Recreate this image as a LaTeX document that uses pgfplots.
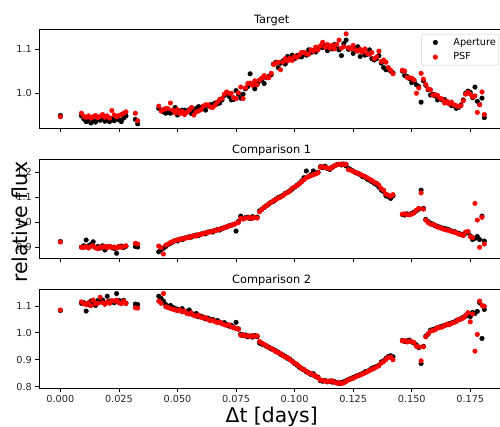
\documentclass[border=0pt]{standalone}
\usepackage{fontspec}
\setmainfont{DejaVu Sans}
\usepackage{pgfplots}
\usepackage{pgfplotstable}
\pgfplotsset{compat=1.18}

\pgfplotstableread{
t ta tp c1a c1p c2a c2p
0.000 0.950 0.947 0.922 0.920 1.083 1.085
0.009 0.949 0.955 0.900 0.899 1.110 1.115
0.010 0.942 0.948 0.905 0.898 1.112 1.108
0.011 0.936 0.946 0.928 0.902 1.081 1.105
0.012 0.940 0.949 0.905 0.896 1.105 1.112
0.013 0.933 0.944 0.910 0.902 1.118 1.101
0.014 0.938 0.947 0.921 0.905 1.112 1.122
0.015 0.935 0.950 0.898 0.897 1.102 1.108
0.016 0.942 0.945 0.902 0.893 1.120 1.110
0.017 0.939 0.948 0.896 0.901 1.115 1.132
0.018 0.944 0.952 0.905 0.899 1.122 1.112
0.019 0.937 0.946 0.888 0.903 1.110 1.106
0.020 0.940 0.949 0.900 0.897 1.136 1.115
0.021 0.936 0.944 0.903 0.902 1.118 1.110
0.022 0.943 0.961 0.897 0.898 1.115 1.120
0.023 0.938 0.951 0.894 0.900 1.112 1.118
0.024 0.945 0.947 0.875 0.896 1.146 1.122
0.025 0.940 0.950 0.900 0.903 1.120 1.112
0.026 0.936 0.952 0.904 0.899 1.116 1.108
0.027 0.944 0.955 0.898 0.902 1.121 1.118
0.028 0.949 0.958 0.903 0.905 1.110 1.109
0.032 0.941 0.955 0.902 0.915 1.107 1.093
0.033 0.931 0.938 0.900 0.912 1.105 1.092
0.042 0.966 0.971 0.881 0.904 1.136 1.118
0.043 0.962 0.960 0.890 0.897 1.128 1.110
0.044 0.958 0.963 0.895 0.872 1.118 1.146
0.045 0.955 0.966 0.902 0.908 1.105 1.097
0.046 0.957 0.965 0.910 0.912 1.098 1.094
0.047 0.955 0.978 0.915 0.918 1.102 1.090
0.048 0.960 0.962 0.920 0.922 1.095 1.088
0.049 0.968 0.956 0.926 0.925 1.090 1.085
0.050 0.951 0.963 0.924 0.929 1.088 1.082
0.051 0.958 0.954 0.932 0.930 1.085 1.086
0.052 0.962 0.959 0.930 0.934 1.090 1.078
0.053 0.962 0.952 0.936 0.933 1.080 1.081
0.054 0.960 0.957 0.938 0.939 1.078 1.072
0.055 0.963 0.962 0.941 0.937 1.085 1.070
0.056 0.954 0.968 0.940 0.943 1.070 1.074
0.057 0.961 0.951 0.945 0.946 1.068 1.065
0.058 0.966 0.958 0.948 0.944 1.072 1.062
0.059 0.970 0.960 0.946 0.950 1.060 1.066
0.060 0.968 0.963 0.952 0.951 1.062 1.058
0.061 0.970 0.971 0.955 0.953 1.058 1.055
0.062 0.962 0.974 0.953 0.957 1.052 1.056
0.063 0.972 0.974 0.960 0.958 1.055 1.050
0.064 0.974 0.969 0.962 0.961 1.048 1.045
0.065 0.975 0.968 0.960 0.964 1.050 1.047
0.066 0.978 0.973 0.967 0.965 1.044 1.042
0.067 0.976 0.980 0.970 0.968 1.046 1.038
0.068 0.978 0.986 0.968 0.972 1.040 1.040
0.069 0.985 0.988 0.975 0.973 1.036 1.034
0.070 0.995 0.998 0.978 0.977 1.038 1.030
0.071 1.002 1.003 0.980 0.982 1.030 1.028
0.072 0.993 1.000 0.985 0.984 1.025 1.030
0.073 0.985 1.000 0.988 0.987 1.028 1.022
0.074 0.986 0.990 0.990 0.991 1.020 1.019
0.075 1.006 0.988 0.964 0.995 1.039 1.016
0.076 0.998 1.001 1.002 0.998 1.015 1.013
0.077 0.989 1.014 1.024 1.015 0.995 0.991
0.078 0.998 0.988 1.015 1.012 0.990 0.993
0.079 1.010 1.012 1.018 1.016 0.992 0.988
0.080 1.015 1.022 1.020 1.017 0.985 0.990
0.081 1.044 1.023 1.014 1.018 0.988 0.986
0.082 1.020 1.018 1.022 1.015 0.984 0.990
0.083 1.010 1.028 1.018 1.019 0.990 0.987
0.084 1.022 1.019 1.020 1.016 0.986 0.989
0.085 1.028 1.030 1.045 1.041 0.962 0.968
0.086 1.030 1.034 1.052 1.050 0.958 0.962
0.087 1.022 1.040 1.058 1.060 0.955 0.957
0.088 1.035 1.036 1.066 1.065 0.950 0.952
0.089 1.038 1.035 1.072 1.074 0.947 0.945
0.090 1.042 1.045 1.080 1.079 0.940 0.943
0.091 1.066 1.065 1.083 1.086 0.938 0.936
0.092 1.070 1.068 1.092 1.090 0.933 0.930
0.093 1.058 1.070 1.098 1.096 0.928 0.926
0.094 1.068 1.053 1.102 1.100 0.920 0.923
0.095 1.073 1.070 1.108 1.106 0.918 0.915
0.096 1.066 1.078 1.115 1.113 0.913 0.910
0.097 1.083 1.073 1.120 1.118 0.905 0.908
0.098 1.076 1.079 1.126 1.124 0.902 0.900
0.099 1.086 1.074 1.132 1.136 0.895 0.893
0.100 1.078 1.083 1.140 1.141 0.886 0.888
0.101 1.085 1.081 1.148 1.146 0.880 0.883
0.102 1.083 1.087 1.155 1.153 0.872 0.876
0.103 1.082 1.092 1.165 1.162 0.868 0.866
0.104 1.090 1.092 1.178 1.170 0.862 0.864
0.105 1.086 1.089 1.205 1.178 0.855 0.858
0.106 1.098 1.088 1.183 1.182 0.852 0.850
0.107 1.092 1.098 1.190 1.186 0.845 0.848
0.108 1.097 1.095 1.205 1.190 0.848 0.842
0.109 1.093 1.104 1.195 1.193 0.838 0.840
0.110 1.102 1.098 1.200 1.198 0.835 0.833
0.111 1.105 1.107 1.222 1.220 0.822 0.825
0.112 1.103 1.115 1.218 1.222 0.820 0.823
0.113 1.108 1.104 1.224 1.219 0.823 0.821
0.114 1.096 1.110 1.215 1.217 0.818 0.820
0.115 1.104 1.102 1.211 1.214 0.821 0.819
0.116 1.100 1.108 1.220 1.218 0.817 0.822
0.117 1.110 1.100 1.225 1.226 0.819 0.816
0.118 1.102 1.110 1.230 1.229 0.815 0.813
0.119 1.098 1.120 1.232 1.231 0.812 0.815
0.120 1.085 1.102 1.229 1.233 0.816 0.811
0.121 1.112 1.105 1.233 1.230 0.818 0.814
0.122 1.120 1.134 1.225 1.232 0.822 0.819
0.123 1.099 1.103 1.215 1.210 0.827 0.825
0.124 1.102 1.100 1.210 1.208 0.830 0.828
0.125 1.090 1.108 1.205 1.203 0.834 0.831
0.126 1.100 1.098 1.198 1.200 0.838 0.836
0.127 1.105 1.095 1.195 1.196 0.842 0.840
0.128 1.083 1.099 1.190 1.192 0.845 0.843
0.129 1.095 1.093 1.182 1.187 0.849 0.847
0.130 1.086 1.100 1.180 1.183 0.855 0.851
0.131 1.088 1.090 1.172 1.178 0.857 0.855
0.132 1.098 1.088 1.168 1.172 0.862 0.860
0.133 1.078 1.092 1.162 1.167 0.868 0.864
0.134 1.075 1.078 1.155 1.160 0.872 0.868
0.135 1.078 1.082 1.150 1.156 0.875 0.873
0.136 1.085 1.095 1.140 1.148 0.880 0.878
0.137 1.068 1.072 1.128 1.134 0.892 0.888
0.138 1.058 1.075 1.122 1.128 0.896 0.893
0.139 1.053 1.070 1.105 1.112 0.905 0.901
0.140 1.056 1.058 1.102 1.108 0.912 0.908
0.141 1.050 1.052 1.095 1.104 0.915 0.910
0.142 1.046 1.044 1.105 1.110 0.911 0.900
0.146 1.050 1.052 1.030 1.032 0.972 0.970
0.147 1.040 1.050 1.028 1.033 0.968 0.971
0.148 1.038 1.036 1.033 1.030 0.970 0.966
0.149 1.033 1.035 1.031 1.029 0.973 0.969
0.150 1.024 1.034 1.035 1.032 0.966 0.968
0.151 1.027 1.030 1.040 1.037 0.962 0.964
0.152 1.019 1.000 1.045 1.048 0.955 0.950
0.153 1.015 1.012 1.052 1.055 0.945 0.948
0.154 0.980 1.045 1.128 1.117 0.886 0.896
0.155 1.028 1.032 1.055 1.052 0.950 0.948
0.156 1.018 1.020 1.011 1.008 0.988 0.985
0.157 1.008 1.010 1.002 0.998 0.995 0.997
0.158 0.996 1.008 0.996 0.992 1.010 1.006
0.159 0.998 0.996 0.992 0.990 1.012 1.008
0.160 0.994 0.997 0.985 0.988 1.015 1.012
0.161 0.985 0.995 0.983 0.980 1.018 1.020
0.162 0.988 0.989 0.980 0.978 1.022 1.019
0.163 0.985 0.987 0.976 0.974 1.025 1.022
0.164 0.986 0.978 0.975 0.970 1.028 1.026
0.165 0.980 0.982 0.972 0.968 1.030 1.032
0.166 0.978 0.976 0.969 0.966 1.034 1.030
0.167 0.972 0.980 0.964 0.962 1.037 1.035
0.168 0.972 0.974 0.963 0.960 1.040 1.038
0.169 0.966 0.972 0.958 0.957 1.045 1.042
0.170 0.968 0.970 0.955 0.952 1.048 1.050
0.171 0.974 0.972 0.952 0.950 1.053 1.051
0.172 0.985 0.983 0.948 0.946 1.058 1.055
0.173 1.000 0.998 0.955 0.960 1.062 1.065
0.174 1.005 1.002 0.960 0.962 1.066 1.075
0.175 1.002 0.998 0.945 0.942 1.060 1.041
0.176 0.990 0.992 0.930 0.938 1.076 1.070
0.177 1.014 0.994 0.935 1.075 1.072 0.932
0.178 0.982 0.957 0.942 1.008 1.080 0.994
0.179 0.975 0.974 0.930 0.899 1.112 1.118
0.180 0.989 1.003 1.024 1.019 0.979 1.102
0.181 0.945 0.952 0.924 0.912 1.087 1.099
}\data

\pgfplotsset{
  panel/.style={
    scale only axis, width=464.7pt, height=99pt,
    xmin=-0.009, xmax=0.1894,
    anchor=south west,
    axis line style={line width=0.8pt, black},
    tick align=outside, major tick length=4pt,
    tick style={black, line width=0.8pt},
    xtick={0,0.025,0.05,0.075,0.1,0.125,0.15,0.175},
    xtick pos=bottom, ytick pos=left,
    scaled x ticks=false, scaled y ticks=false,
    /pgf/number format/assume math mode=true,
    ticklabel style={font=\fontsize{9.7}{11}\selectfont, text=black!85},
    yticklabel style={/pgf/number format/fixed, /pgf/number format/precision=1, /pgf/number format/fixed zerofill},
    xticklabel style={/pgf/number format/fixed, /pgf/number format/precision=3, /pgf/number format/fixed zerofill},
    title style={font=\fontsize{11.4}{13}\selectfont, at={(0.5,1)}, anchor=base, yshift=-0.5pt},
  },
  amark/.style={only marks, mark=*, mark size=2.3pt, black, mark options={draw=none, fill=black}},
  pmark/.style={only marks, mark=*, mark size=2.3pt, red, mark options={draw=none, fill=red}},
}

\begin{document}
\begin{tikzpicture}[x=1pt,y=1pt]
\useasboundingbox (0,0) rectangle (500,427);
\begin{axis}[panel, at={(39.3pt,299pt)}, ymin=0.9217, ymax=1.145, ytick={1.0,1.1},
  xticklabels={}, title={Target},
  legend style={at={(1,1)}, anchor=north east, xshift=-5pt, yshift=-5pt,
    draw=black!20, rounded corners=2pt, font=\fontsize{9.7}{11}\selectfont,
    inner xsep=1pt, inner ysep=2pt, row sep=2pt},
  legend cell align=left,
  legend image code/.code={\node[draw=none, fill=none, inner sep=0pt, minimum width=28.8pt, minimum height=4pt, anchor=west] at (0pt,0pt) {}; \draw[#1, only marks, mark repeat=2, mark phase=2] plot coordinates {(0pt,0pt) (13pt,0pt) (28pt,0pt)};}]
\addplot[amark] table[x=t,y=ta] {\data};
\addlegendentry{Aperture}
\addplot[pmark] table[x=t,y=tp] {\data};
\addlegendentry{PSF}
\end{axis}
\begin{axis}[panel, at={(39.3pt,169pt)}, ymin=0.856, ymax=1.253, ytick={0.9,1.0,1.1,1.2},
  xticklabels={}, title={Comparison 1}]
\addplot[amark] table[x=t,y=c1a] {\data};
\addplot[pmark] table[x=t,y=c1p] {\data};
\end{axis}
\begin{axis}[panel, at={(39.3pt,39pt)}, ymin=0.795, ymax=1.163, ytick={0.8,0.9,1.0,1.1},
  title={Comparison 2}]
\addplot[amark] table[x=t,y=c2a] {\data};
\addplot[pmark] table[x=t,y=c2p] {\data};
\end{axis}
\node[rotate=90, anchor=base, font=\fontsize{20.5}{24}\selectfont, inner sep=0pt] at (27,205) {relative flux};
\node[anchor=base, font=\fontsize{20.3}{24}\selectfont, inner sep=0pt] at (271.7,4) {Δt [days]};
\end{tikzpicture}
\end{document}
